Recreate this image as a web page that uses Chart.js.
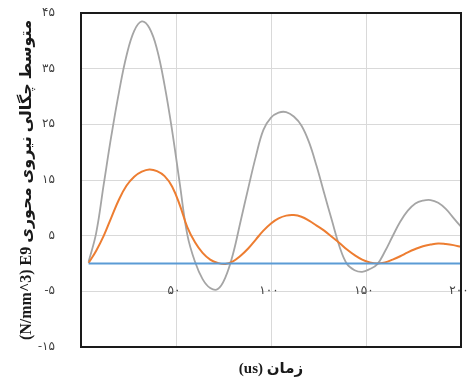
<!DOCTYPE html>
<html>
<head>
<meta charset="utf-8">
<script src="https://cdn.jsdelivr.net/npm/chart.js@4.4.0/dist/chart.umd.min.js"></script>
<style>
  html, body { margin: 0; padding: 0; background: #fff; }
  #wrap { width: 469px; height: 378px; }
</style>
</head>
<body>
<div id="wrap"><canvas id="chart" dir="ltr"></canvas></div>
<script>
// values (time in us, force density E9 N/mm^3)
const times = [4, 8, 12, 16, 20, 24, 28, 32, 36, 40, 44, 48, 52, 56, 60, 64, 68, 72, 76, 80,
  84, 88, 92, 96, 100, 104, 108, 112, 116, 120, 124, 128, 132, 136, 140, 144, 148, 152, 156, 160,
  164, 168, 172, 176, 180, 184, 188, 192, 196, 200];

const grayVals = [0.3, 5.5, 14.3, 23, 30.8, 37.4, 41.8, 43.5, 42.3, 38.5, 32, 23.8, 14.3, 5.1, 0.3, -2.8, -4.4, -4.6, -2.5, 1.7,
  7.6, 13.5, 19.2, 24.0, 26.2, 27.1, 27.2, 26.4, 24.8, 21.8, 17.5, 12.6, 7.8, 3.1, -0.1, -1.2, -1.5, -1.0, -0.1, 2.2,
  4.9, 7.5, 9.5, 10.8, 11.3, 11.4, 10.9, 9.8, 8.2, 6.6];

const orangeVals = [0.1, 2.3, 5.0, 8.3, 11.5, 14.0, 15.6, 16.5, 16.9, 16.6, 15.7, 13.8, 10.5, 6.5, 3.8, 1.9, 0.7, 0.1, -0.1, 0.4,
  1.4, 2.7, 4.3, 5.9, 7.2, 8.1, 8.6, 8.7, 8.4, 7.7, 6.8, 5.9, 4.8, 3.7, 2.5, 1.5, 0.7, 0.2, 0, 0.2,
  0.7, 1.3, 2.0, 2.6, 3.1, 3.4, 3.6, 3.5, 3.3, 3.0];

const blueX = [4, 200];
const blueVals = [0, 0];

const xTicks = [50, 100, 150, 200];
const yMin = -15, yMax = 45, yStep = 10;

const xTitle = '(us) زمان';
const yTitle = '(N/mm^3) E9 متوسط چگالی نیروی محوری';

function toFa(n) {
  const d = '۰۱۲۳۴۵۶۷۸۹';
  return String(n).replace(/[0-9]/g, c => d[c]);
}

function pts(xs, ys) {
  return xs.map((x, i) => ({ x: x, y: ys[i] }));
}

const labelFont = '12px "Liberation Serif", "DejaVu Sans", serif';

// x tick labels sit on the -5 gridline, plus the black plot frame
const extras = {
  id: 'extras',
  afterDraw(chart) {
    const { ctx, chartArea, scales } = chart;
    ctx.save();
    ctx.strokeStyle = '#1a1a1a';
    ctx.lineWidth = 2;
    ctx.strokeRect(chartArea.left, chartArea.top, chartArea.right - chartArea.left, chartArea.bottom - chartArea.top);
    ctx.fillStyle = '#404040';
    ctx.font = labelFont;
    ctx.textAlign = 'center';
    ctx.textBaseline = 'middle';
    const y = scales.y.getPixelForValue(-5);
    xTicks.forEach(v => {
      ctx.fillText(toFa(v), scales.x.getPixelForValue(v) - 2, y);
    });
    ctx.restore();
  }
};

new Chart(document.getElementById('chart'), {
  type: 'line',
  data: {
    datasets: [
      { data: pts(blueX, blueVals), borderColor: '#5b9bd5', borderWidth: 2 },
      { data: pts(times, orangeVals), borderColor: '#ed7d31', borderWidth: 2 },
      { data: pts(times, grayVals), borderColor: '#a5a5a5', borderWidth: 1.8 },
    ],
  },
  options: {
    responsive: true,
    maintainAspectRatio: false,
    animation: false,
    layout: { padding: { left: 0, right: 8, top: 13, bottom: 0 } },
    elements: {
      point: { radius: 0 },
      line: { tension: 0.4 },
    },
    plugins: {
      legend: { display: false },
      tooltip: { enabled: false },
    },
    scales: {
      x: {
        type: 'linear',
        min: 0,
        max: 200,
        ticks: { stepSize: 50, display: false },
        grid: { color: '#d9d9d9', drawTicks: false },
        border: { display: false },
        title: {
          display: true,
          text: xTitle,
          color: '#1a1a1a',
          font: { family: '"Liberation Serif", "DejaVu Sans", serif', size: 15, weight: 'bold' },
          padding: { top: 0, bottom: 0 },
        },
        afterFit: s => { s.height = 31; s.paddingLeft = 0; s.paddingRight = 0; },
      },
      y: {
        min: yMin,
        max: yMax,
        ticks: {
          stepSize: yStep,
          padding: 26,
          color: '#404040',
          font: { family: '"Liberation Serif", "DejaVu Sans", serif', size: 12 },
          callback: v => toFa(v),
        },
        grid: { color: '#d9d9d9', drawTicks: false },
        border: { display: false },
        title: {
          display: true,
          text: yTitle,
          color: '#1a1a1a',
          font: { family: '"Liberation Serif", "DejaVu Sans", serif', size: 16, weight: 'bold' },
          padding: { top: 17, bottom: 0 },
        },
        afterFit: s => { s.width = 81; s.paddingTop = 0; s.paddingBottom = 0; },
      },
    },
  },
  plugins: [extras],
});
</script>
</body>
</html>
